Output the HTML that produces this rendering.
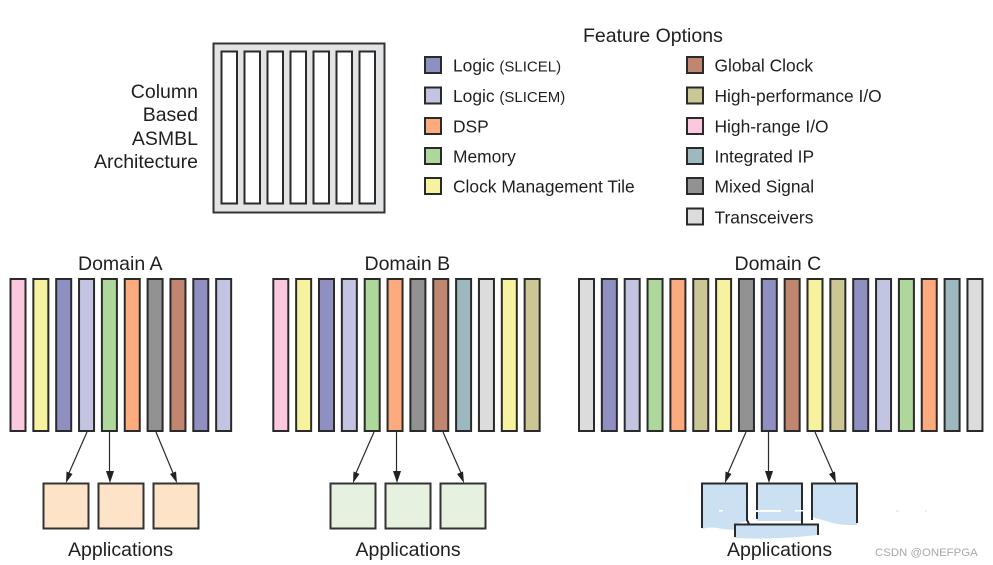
<!DOCTYPE html>
<html><head><meta charset="utf-8"><style>
html,body{margin:0;padding:0;background:#fff}
svg{display:block}
text{font-family:"Liberation Sans",sans-serif;fill:#1f1f1f;font-size:19.5px}
.l{font-size:17.4px}
.s{font-size:15px}
</style></head><body>
<svg width="993" height="565" viewBox="0 0 993 565" xmlns="http://www.w3.org/2000/svg">
<defs>
<g id="b"><rect x="1" y="279" width="15" height="152" stroke="#2a2a2a" stroke-width="2"/></g>
</defs>
<rect width="993" height="565" fill="#fff"/>
<!-- ASMBL -->
<rect x="213.500" y="43.500" width="171" height="169" fill="#e2e3e5" stroke="#333" stroke-width="2"/>
<g fill="#fff" stroke="#2a2a2a" stroke-width="2">
<rect x="221.500" y="51.500" width="15.500" height="152"/>
<rect x="244.500" y="51.500" width="15.500" height="152"/>
<rect x="267.500" y="51.500" width="15.500" height="152"/>
<rect x="290.500" y="51.500" width="15.500" height="152"/>
<rect x="313.500" y="51.500" width="15.500" height="152"/>
<rect x="336.500" y="51.500" width="15.500" height="152"/>
<rect x="359.500" y="51.500" width="15.500" height="152"/>
</g>
<g text-anchor="end">
<text x="198" y="98">Column</text>
<text x="198" y="121">Based</text>
<text x="198" y="145">ASMBL</text>
<text x="198" y="168">Architecture</text>
</g>
<!-- Legend -->
<text x="583" y="42">Feature Options</text>
<g stroke="#2a2a2a" stroke-width="2">
<rect x="425" y="57" width="16" height="16" fill="#8f8fc2"/>
<rect x="425" y="87.500" width="16" height="16" fill="#c3c3e2"/>
<rect x="425" y="118" width="16" height="16" fill="#fcab7e"/>
<rect x="425" y="148" width="16" height="16" fill="#aed79c"/>
<rect x="425" y="178" width="16" height="16" fill="#f6f29f"/>
<rect x="687" y="57" width="16" height="16" fill="#c0866f"/>
<rect x="687" y="87.500" width="16" height="16" fill="#cac795"/>
<rect x="687" y="118" width="16" height="16" fill="#fcc8e0"/>
<rect x="687" y="148" width="16" height="16" fill="#9db8be"/>
<rect x="687" y="178" width="16" height="16" fill="#929292"/>
<rect x="687" y="208.500" width="16" height="16" fill="#dcdcdc"/>
</g>
<text class="l" x="453" y="71.500">Logic <tspan class="s">(SLICEL)</tspan></text>
<text class="l" x="453" y="102">Logic <tspan class="s">(SLICEM)</tspan></text>
<text class="l" x="453" y="132.500">DSP</text>
<text class="l" x="453" y="162.500">Memory</text>
<text class="l" x="453" y="192.500">Clock Management Tile</text>
<text class="l" x="714.500" y="71.500">Global Clock</text>
<text class="l" x="714.500" y="102">High-performance I/O</text>
<text class="l" x="714.500" y="132.500">High-range I/O</text>
<text class="l" x="714.500" y="162.500">Integrated IP</text>
<text class="l" x="714.500" y="192.500">Mixed Signal</text>
<text class="l" x="714.500" y="223.500">Transceivers</text>
<!-- Domain titles -->
<text x="78" y="270">Domain A</text>
<text x="364.500" y="270">Domain B</text>
<text x="734.500" y="270">Domain C</text>
<!-- Domain A bars -->
<use href="#b" x="9.500" fill="#fcc8e0"/>
<use href="#b" x="32.350" fill="#f6f29f"/>
<use href="#b" x="55.200" fill="#8f8fc2"/>
<use href="#b" x="78.050" fill="#c3c3e2"/>
<use href="#b" x="100.900" fill="#aed79c"/>
<use href="#b" x="123.750" fill="#fcab7e"/>
<use href="#b" x="146.600" fill="#929292"/>
<use href="#b" x="169.450" fill="#c0866f"/>
<use href="#b" x="192.300" fill="#8f8fc2"/>
<use href="#b" x="215.150" fill="#c3c3e2"/>
<!-- Domain B bars -->
<use href="#b" x="272.300" fill="#fcc8e0"/>
<use href="#b" x="295.150" fill="#f6f29f"/>
<use href="#b" x="318" fill="#8f8fc2"/>
<use href="#b" x="340.850" fill="#c3c3e2"/>
<use href="#b" x="363.700" fill="#aed79c"/>
<use href="#b" x="386.550" fill="#fcab7e"/>
<use href="#b" x="409.400" fill="#929292"/>
<use href="#b" x="432.250" fill="#c0866f"/>
<use href="#b" x="455.100" fill="#9db8be"/>
<use href="#b" x="477.950" fill="#dcdcdc"/>
<use href="#b" x="500.800" fill="#f6f29f"/>
<use href="#b" x="523.650" fill="#cac795"/>
<!-- Domain C bars -->
<use href="#b" x="578" fill="#dcdcdc"/>
<use href="#b" x="600.850" fill="#8f8fc2"/>
<use href="#b" x="623.700" fill="#c3c3e2"/>
<use href="#b" x="646.550" fill="#aed79c"/>
<use href="#b" x="669.400" fill="#fcab7e"/>
<use href="#b" x="692.250" fill="#cac795"/>
<use href="#b" x="715.100" fill="#f6f29f"/>
<use href="#b" x="737.950" fill="#929292"/>
<use href="#b" x="760.800" fill="#8f8fc2"/>
<use href="#b" x="783.650" fill="#c0866f"/>
<use href="#b" x="806.500" fill="#f6f29f"/>
<use href="#b" x="829.350" fill="#cac795"/>
<use href="#b" x="852.200" fill="#8f8fc2"/>
<use href="#b" x="875.050" fill="#c3c3e2"/>
<use href="#b" x="897.900" fill="#aed79c"/>
<use href="#b" x="920.750" fill="#fcab7e"/>
<use href="#b" x="943.600" fill="#9db8be"/>
<use href="#b" x="966.450" fill="#dcdcdc"/>
<!-- App boxes A -->
<g fill="#fde3c8" stroke="#333" stroke-width="2">
<rect x="43.500" y="483.500" width="45" height="45"/>
<rect x="98.500" y="483.500" width="45" height="45"/>
<rect x="153.500" y="483.500" width="45" height="45"/>
</g>
<!-- App boxes B -->
<g fill="#e6f1e0" stroke="#333" stroke-width="2">
<rect x="330.500" y="483.500" width="45" height="45"/>
<rect x="385.500" y="483.500" width="45" height="45"/>
<rect x="440.500" y="483.500" width="45" height="45"/>
</g>
<!-- App boxes C (damaged) -->
<path d="M702 483H747V521L735 524V530L722 529Q712 526 702 529Z" fill="#cbe1f3"/>
<path d="M757 483H802V521H757Z" fill="#cbe1f3"/>
<path d="M812 483H857V525Q840 526 826 521L812 517Z" fill="#cbe1f3"/>
<path d="M735 524H818V535Q775 540 735 538Z" fill="#cbe1f3"/>
<g fill="none" stroke="#2a2a2a" stroke-width="2">
<path d="M702 528V483.500H747V520L749 524"/>
<path d="M757 519V483.500H802V524"/>
<path d="M812 520V483.500H857V523"/>
<path d="M735 537V524.500H818V535"/>
</g>
<g fill="#fff">
<rect x="756" y="510" width="25" height="2"/>
<rect x="719" y="510" width="4" height="1.500"/>
<rect x="795" y="510" width="12" height="1.500"/>
</g>
<rect x="896" y="510.500" width="3" height="1" fill="#ddd"/>
<rect x="925" y="510.500" width="2" height="1" fill="#ddd"/>
<!-- Arrows -->
<g stroke="#2a2a2a" stroke-width="1.200" fill="none">
<path d="M87 432L69 473"/><path d="M109.500 432V473"/><path d="M156 432L173 473"/>
<path d="M374 432L356 473"/><path d="M396.500 432V473"/><path d="M443 432L461 473"/>
<path d="M746 432L728 473"/><path d="M768.500 432V473"/><path d="M815 432L833 473"/>
</g>
<g fill="#222">
<path d="M66 483L66.500 471.500L72.500 474Z"/><path d="M110 483L106 471H114Z"/><path d="M177 483L170 474L176 471.500Z"/>
<path d="M353 483L353.500 471.500L359.500 474Z"/><path d="M397 483L393 471H401Z"/><path d="M464 483L457 474L463 471.500Z"/>
<path d="M725 483L725.500 471.500L731.500 474Z"/><path d="M769 483L765 471H773Z"/><path d="M836 483L829 474L835 471.500Z"/>
</g>
<text x="68" y="556">Applications</text>
<text x="355.500" y="556">Applications</text>
<text x="727" y="556">Applications</text>
<text x="875" y="556" style="font-size:11.400px;fill:#a8a8a8">CSDN @ONEFPGA</text>
</svg>
</body></html>
